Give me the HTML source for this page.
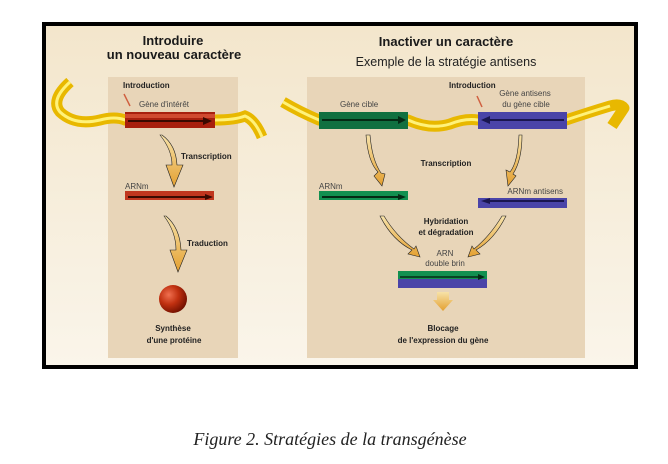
<!DOCTYPE html>
<html><head><meta charset="utf-8"><style>
body{margin:0;background:#fff;width:668px;height:459px;overflow:hidden}
</style></head><body>
<svg width="668" height="459" viewBox="0 0 668 459" xmlns="http://www.w3.org/2000/svg" font-family="Liberation Sans, sans-serif">
<defs>
<linearGradient id="bg" x1="0" y1="0" x2="0" y2="1"><stop offset="0" stop-color="#f3e6cc"/><stop offset="1" stop-color="#faf5ea"/></linearGradient>
<radialGradient id="ball" cx="0.35" cy="0.35" r="0.7"><stop offset="0" stop-color="#f07050"/><stop offset="0.5" stop-color="#c03010"/><stop offset="1" stop-color="#701000"/></radialGradient>
<linearGradient id="arr" x1="0" y1="0" x2="0" y2="1"><stop offset="0" stop-color="#f7e2a8"/><stop offset="1" stop-color="#e4a030"/></linearGradient>
</defs>
<rect x="42" y="22" width="596" height="347" fill="#000"/>
<rect x="46" y="26" width="588" height="339" fill="url(#bg)"/>
<rect x="108" y="77" width="130" height="281" fill="#e8d5b8"/>
<rect x="307" y="77" width="278" height="281" fill="#e8d5b8"/>
<g font-weight="bold" fill="#1a1a1a" font-size="13" text-anchor="middle">
<text x="173" y="45">Introduire</text>
<text x="174" y="59">un nouveau caractère</text>
<text x="446" y="46">Inactiver un caractère</text>
</g>
<text x="446" y="66" font-size="12.5" text-anchor="middle" fill="#222">Exemple de la stratégie antisens</text>
<!-- left DNA -->
<path d="M70 82 Q50 100 60 112 Q75 126 100 120 Q115 116 125 120 L215 120 Q235 120 245 116 Q255 120 262 137" fill="none" stroke="#e8b800" stroke-width="11"/>
<path d="M70 82 Q50 100 60 112 Q75 126 100 120 Q115 116 125 120 L215 120 Q235 120 245 116 Q255 120 262 137" fill="none" stroke="#fff27a" stroke-width="3"/>
<rect x="125" y="112" width="90" height="16" fill="#a8200e"/>
<rect x="125" y="114" width="90" height="4" fill="#d04a30"/>
<line x1="128" y1="121" x2="205" y2="121" stroke="#3a0a00" stroke-width="2"/><path d="M203 117 L212 121 L203 125Z" fill="#3a0a00"/>
<text x="123" y="88" font-size="8" font-weight="bold" fill="#222">Introduction</text>
<text x="139" y="107" font-size="8" fill="#444">Gène d'intérêt</text>
<path d="M124 94 L130 106" stroke="#d06040" stroke-width="1.5"/>
<path d="M160 135 Q172 150 172 165 L166 165 L174 187 L183 165 L177 165 Q176 145 162 135Z" fill="url(#arr)" stroke="#222" stroke-width="0.6"/>
<text x="181" y="159" font-size="8" font-weight="bold" fill="#222">Transcription</text>
<text x="125" y="189" font-size="8" fill="#444">ARNm</text>
<rect x="125" y="191" width="89" height="9" fill="#c0361e"/>
<line x1="128" y1="197" x2="207" y2="197" stroke="#3a0a00" stroke-width="2"/><path d="M205 194 L213 197 L205 200Z" fill="#3a0a00"/>
<path d="M164 216 Q176 232 176 250 L170 250 L178 272 L187 250 L181 250 Q180 228 166 216Z" fill="url(#arr)" stroke="#222" stroke-width="0.6"/>
<text x="187" y="246" font-size="8" font-weight="bold" fill="#222">Traduction</text>
<circle cx="173" cy="299" r="14" fill="url(#ball)"/>
<g font-size="8" font-weight="bold" fill="#222" text-anchor="middle"><text x="173" y="331">Synthèse</text><text x="174" y="343">d'une protéine</text></g>
<!-- right DNA -->
<path d="M283 102 Q300 112 319 120 L408 120 Q430 130 450 124 Q465 118 478 120 L566 120 Q590 112 610 106 Q620 103 624 108 L612 126" fill="none" stroke="#e8b800" stroke-width="11" stroke-linejoin="round"/>
<path d="M283 102 Q300 112 319 120 L408 120 Q430 130 450 124 Q465 118 478 120 L566 120 Q590 112 610 106" fill="none" stroke="#fff27a" stroke-width="3"/>
<rect x="319" y="112" width="89" height="17" fill="#107040"/>
<line x1="322" y1="120" x2="400" y2="120" stroke="#042a14" stroke-width="2"/><path d="M398 116 L406 120 L398 124Z" fill="#042a14"/>
<rect x="478" y="112" width="89" height="17" fill="#4a44a8"/>
<line x1="488" y1="120" x2="564" y2="120" stroke="#1a1650" stroke-width="2"/><path d="M490 116 L481 120 L490 124Z" fill="#1a1650"/>
<text x="340" y="107" font-size="8" fill="#444">Gène cible</text>
<text x="449" y="88" font-size="8" font-weight="bold" fill="#222">Introduction</text>
<g font-size="8" fill="#444" text-anchor="middle"><text x="525" y="96">Gène antisens</text><text x="526" y="107">du gène cible</text></g>
<path d="M477 96 L482 107" stroke="#d06040" stroke-width="1.5"/>
<path d="M366 135 Q368 162 378 172 L374 176 L382 186 L385 174 L381 173 Q372 160 370 135Z" fill="url(#arr)" stroke="#222" stroke-width="0.6"/>
<path d="M519 135 Q518 162 510 172 L506 170 L508 186 L516 176 L513 174 Q522 160 522 135Z" fill="url(#arr)" stroke="#222" stroke-width="0.6"/>
<text x="446" y="166" font-size="8" font-weight="bold" fill="#222" text-anchor="middle">Transcription</text>
<text x="319" y="189" font-size="8" fill="#444">ARNm</text>
<rect x="319" y="191" width="89" height="9" fill="#129050"/>
<line x1="322" y1="197" x2="400" y2="197" stroke="#042a14" stroke-width="2"/><path d="M398 194 L406 197 L398 200Z" fill="#042a14"/>
<text x="563" y="194" font-size="8" fill="#444" text-anchor="end">ARNm antisens</text>
<rect x="478" y="198" width="89" height="10" fill="#4a44a8"/>
<line x1="488" y1="201" x2="564" y2="201" stroke="#1a1650" stroke-width="2"/><path d="M490 198 L481 201 L490 204Z" fill="#1a1650"/>
<path d="M380 216 Q392 240 412 250 L408 254 L420 257 L416 246 L414 249 Q396 236 384 216Z" fill="url(#arr)" stroke="#222" stroke-width="0.6"/>
<path d="M506 216 Q494 240 476 250 L480 254 L468 257 L472 246 L474 249 Q490 236 502 216Z" fill="url(#arr)" stroke="#222" stroke-width="0.6"/>
<g font-size="8" font-weight="bold" fill="#222" text-anchor="middle"><text x="446" y="224">Hybridation</text><text x="446" y="235">et dégradation</text></g>
<g font-size="8" fill="#444" text-anchor="middle"><text x="445" y="256">ARN</text><text x="445" y="266">double brin</text></g>
<rect x="398" y="271" width="89" height="8" fill="#129050"/>
<rect x="398" y="279" width="89" height="9" fill="#4a44a8"/>
<line x1="400" y1="277" x2="480" y2="277" stroke="#042a14" stroke-width="1.5"/><path d="M478 274 L485 277 L478 280Z" fill="#042a14"/>
<path d="M437 292 L449 292 L449 300 L453 300 L443 311 L433 300 L437 300Z" fill="url(#arr)"/>
<g font-size="8" font-weight="bold" fill="#222" text-anchor="middle"><text x="443" y="331">Blocage</text><text x="443" y="343">de l'expression du gène</text></g>
<text x="330" y="445" font-family="Liberation Serif, serif" font-style="italic" font-size="18" text-anchor="middle" fill="#222">Figure 2. Stratégies de la transgénèse</text>
</svg>
</body></html>
